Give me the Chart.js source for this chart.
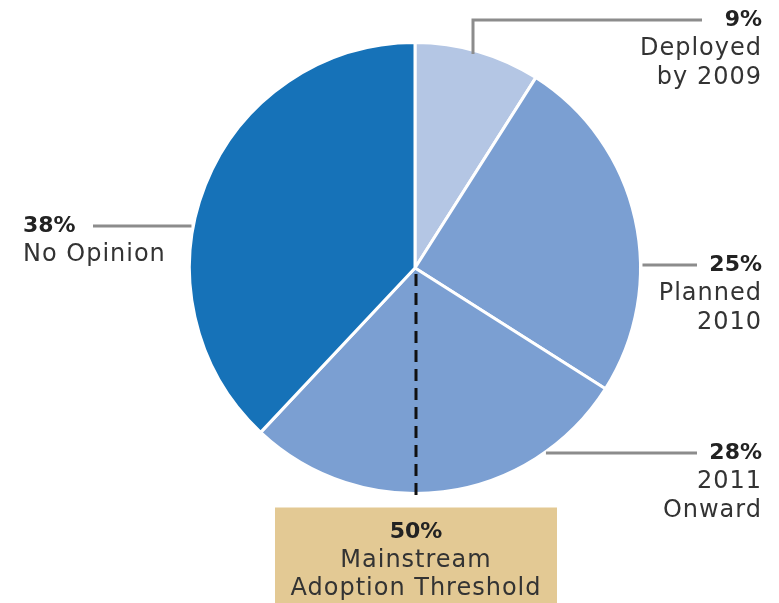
<!DOCTYPE html>
<html>
<head>
<meta charset="utf-8">
<script src="https://cdn.jsdelivr.net/npm/chart.js@4.4.0/dist/chart.umd.min.js"></script>
<style>
  html, body { margin: 0; padding: 0; background: #fff; }
  #wrap { width: 779px; height: 603px; position: relative; }
</style>
</head>
<body>
<div id="wrap"><canvas id="adoption-pie"></canvas></div>
<script>
// slice data, clockwise from 12 o'clock
var values = [9, 25, 28, 38];
var labelLines = [
  ["Deployed", "by 2009"],
  ["Planned", "2010"],
  ["2011", "Onward"],
  ["No Opinion"]
];
var sliceColors = ["#b4c6e4", "#7b9fd2", "#7b9fd2", "#1672b8"];
var threshold = 50;
var thresholdLines = ["Mainstream", "Adoption Threshold"];

var FONT = "'DejaVu Sans', sans-serif";

//Draw the callouts and the threshold box on top of the pie
var calloutPlugin = {
  id: 'callouts',
  afterDraw: function(chart) {
    var ctx = chart.ctx;
    var arc = chart.getDatasetMeta(0).data[0];
    var cx = arc.x, cy = arc.y, r = arc.outerRadius;

    function edgeX(y, side) {
      var d = Math.sqrt(Math.max(r * r - (y - cy) * (y - cy), 0));
      return side < 0 ? cx - d : cx + d;
    }

    ctx.save();
    ctx.strokeStyle = "#8c8c8c";
    ctx.lineWidth = 3;

    // 9% - elbow line from top of slice
    var topY = cy - 248;
    var elbowX = cx + 58;
    ctx.beginPath();
    ctx.moveTo(elbowX, cy - Math.sqrt(r * r - 58 * 58) + 4);
    ctx.lineTo(elbowX, topY);
    ctx.lineTo(702, topY);
    ctx.stroke();

    // 25%
    var y25 = cy - 3;
    ctx.beginPath();
    ctx.moveTo(edgeX(y25, 1) + 2, y25);
    ctx.lineTo(697, y25);
    ctx.stroke();

    // 28%
    var y28 = cy + 185;
    ctx.beginPath();
    ctx.moveTo(edgeX(y28, 1) + 2, y28);
    ctx.lineTo(697, y28);
    ctx.stroke();

    // 38%
    var y38 = cy - 42;
    ctx.beginPath();
    ctx.moveTo(93, y38);
    ctx.lineTo(edgeX(y38, -1) - 2, y38);
    ctx.stroke();

    ctx.textBaseline = "middle";
    function block(x, y, align, pct, lines) {
      ctx.textAlign = align;
      ctx.letterSpacing = "0px";
      ctx.fillStyle = "#222";
      ctx.font = "bold 22px " + FONT;
      ctx.fillText(pct + "%", x, y);
      ctx.letterSpacing = "1px";
      ctx.font = "24px " + FONT;
      ctx.fillStyle = "#333";
      for (var i = 0; i < lines.length; i++) {
        ctx.fillText(lines[i], x, y + 29 * (i + 1));
      }
    }
    block(762, topY, "right", values[0], labelLines[0]);
    block(762, y25, "right", values[1], labelLines[1]);
    block(762, y28, "right", values[2], labelLines[2]);
    block(23, y38, "left", values[3], labelLines[3]);

    // dashed threshold line straight down from the centre
    ctx.strokeStyle = "#111";
    ctx.lineWidth = 3;
    ctx.setLineDash([12, 7]);
    ctx.beginPath();
    ctx.moveTo(cx + 1, cy + 6);
    ctx.lineTo(cx + 1, cy + r + 3);
    ctx.stroke();
    ctx.setLineDash([]);

    // threshold box
    var boxTop = cy + r + 14;
    ctx.fillStyle = "#e3c994";
    ctx.fillRect(cx - 140, boxTop, 282, 603 - boxTop);
    ctx.textAlign = "center";
    ctx.letterSpacing = "0px";
    ctx.fillStyle = "#222";
    ctx.font = "bold 22px " + FONT;
    ctx.fillText(threshold + "%", cx + 1, boxTop + 25);
    ctx.letterSpacing = "1px";
    ctx.font = "24px " + FONT;
    ctx.fillStyle = "#333";
    ctx.fillText(thresholdLines[0], cx + 1, boxTop + 53);
    ctx.fillText(thresholdLines[1], cx + 1, boxTop + 81);
    ctx.restore();
  }
};

var ctx = document.getElementById("adoption-pie").getContext('2d');
var pieChart = new Chart(ctx, {
  type: 'pie',
  data: {
    labels: labelLines.map(function(l) { return l.join(" "); }),
    datasets: [{
      data: values,
      backgroundColor: sliceColors,
      borderColor: "#ffffff",
      borderWidth: 3
    }]
  },
  options: {
    responsive: true,
    maintainAspectRatio: false,
    animation: false,
    layout: {
      padding: { left: 188, right: 137, top: 41, bottom: 108 }
    },
    plugins: {
      legend: { display: false },
      tooltip: { enabled: false },
      title: { display: false }
    }
  },
  plugins: [calloutPlugin]
});
</script>
</body>
</html>
